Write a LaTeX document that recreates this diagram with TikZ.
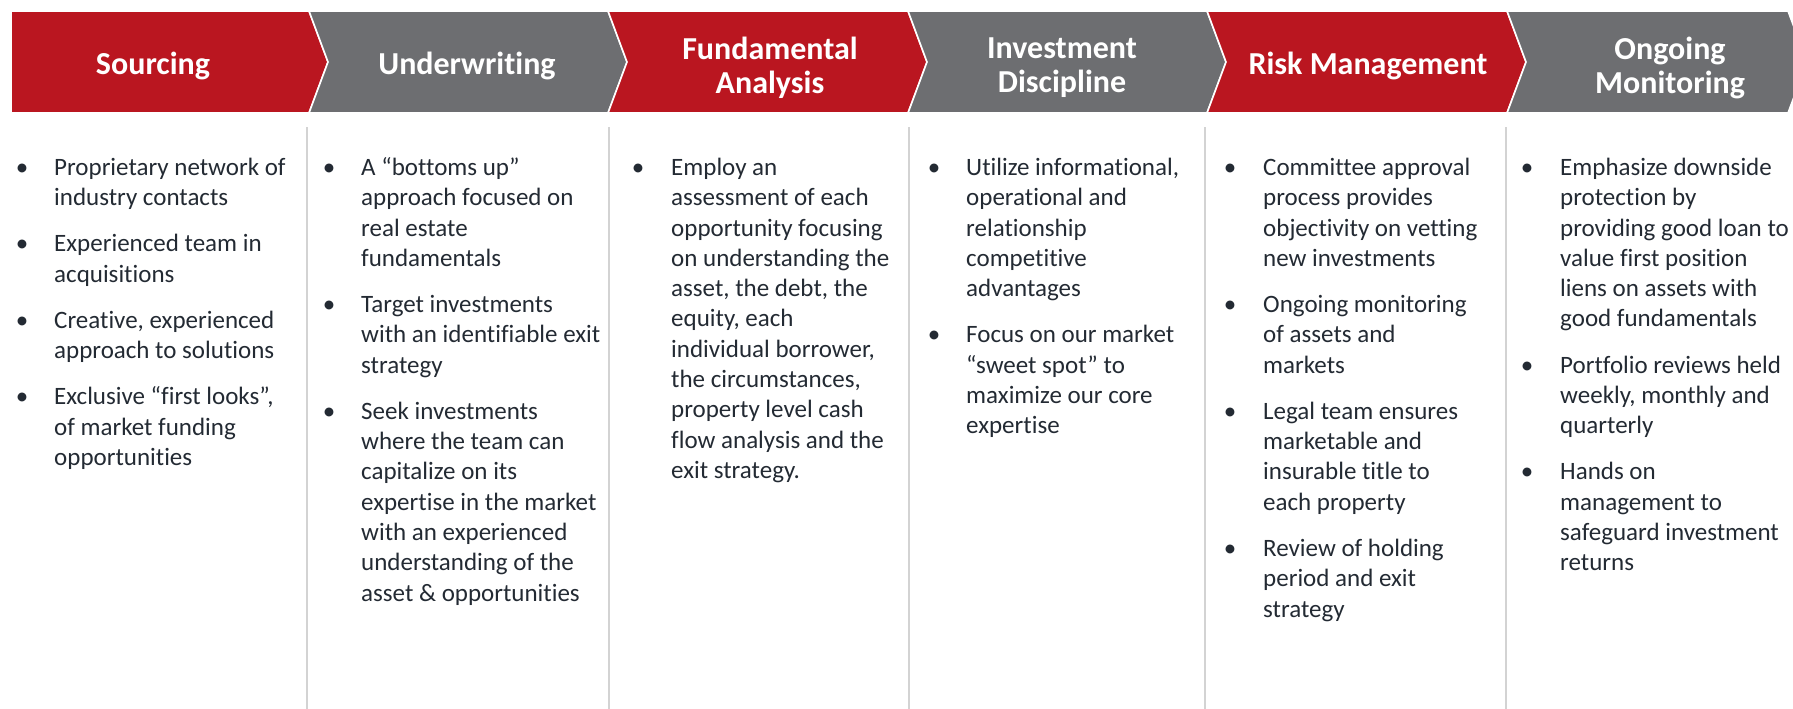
\documentclass[tikz,border=0pt]{standalone}
\usepackage{fontspec}
\setmainfont{Carlito}[Ligatures=NoCommon]
\usetikzlibrary{positioning}
\definecolor{brandred}{HTML}{BA1620}
\definecolor{brandgray}{HTML}{6D6E71}
\definecolor{bodytext}{HTML}{232A33}
\definecolor{rulegray}{HTML}{D3D3D3}
\begin{document}
\begin{tikzpicture}[x=1pt,y=-1pt,
  stage/.style={draw=white,line width=1.6pt,line join=miter},
  redstage/.style={stage,fill=brandred},
  graystage/.style={stage,fill=brandgray},
  head/.style={text=white,font=\fontsize{32}{34}\selectfont\bfseries,align=center,inner sep=0pt},
  item/.style={text=bodytext,font=\fontsize{25}{30.3}\selectfont,align=left,inner sep=0pt,anchor=north west},
  follow/.style={below=15.5pt of #1.south west,anchor=north west},
  dot/.style={text=bodytext,font=\fontsize{25}{30.3}\selectfont,inner sep=0pt,anchor=north},
  colrule/.style={draw=rulegray,line width=1.8pt}
]
\path[use as bounding box] (0,0) rectangle (1793,709);
\clip (0,0) rectangle (1793,709);

% stage band
\path[redstage]  (11,11) -- (309,11) -- (328,62) -- (309,113) -- (11,113) -- cycle;
\path[graystage] (309,11) -- (608,11) -- (627,62) -- (608,113) -- (309,113) -- (328,62) -- cycle;
\path[redstage]  (608,11) -- (908,11) -- (927,62) -- (908,113) -- (608,113) -- (627,62) -- cycle;
\path[graystage] (908,11) -- (1207,11) -- (1226,62) -- (1207,113) -- (908,113) -- (927,62) -- cycle;
\path[redstage]  (1207,11) -- (1507,11) -- (1526,62) -- (1507,113) -- (1207,113) -- (1226,62) -- cycle;
\path[graystage] (1507,11) -- (1788,11) -- (1807,62) -- (1788,113) -- (1507,113) -- (1526,62) -- cycle;

\node[head] (h1) at (153,66) {Sourcing};
\node[head] (h2) at (467,66) {Underwriting};
\node[head] (h3) at (770,68) {Fundamental\\Analysis};
\node[head] (h4) at (1062,68) {Investment\\Discipline};
\node[head] (h5) at (1368,66) {Risk Management};
\node[head] (h6) at (1670,68) {Ongoing\\Monitoring};

% column rules
\draw[colrule] (307,127) -- (307,709);
\draw[colrule] (609,127) -- (609,709);
\draw[colrule] (909,127) -- (909,709);
\draw[colrule] (1205,127) -- (1205,709);
\draw[colrule] (1506,127) -- (1506,709);

% Sourcing
\node[item] (a1) at (54,154) {\strut Proprietary network of\\industry contacts\strut};
\node[item,follow=a1] (a2) {\strut Experienced team in\\acquisitions\strut};
\node[item,follow=a2] (a3) {\strut Creative, experienced\\approach to solutions\strut};
\node[item,follow=a3] (a4) {\strut Exclusive “first looks”,\\of market funding\\opportunities\strut};
\foreach \n in {a1,a2,a3,a4} \node[dot] (d-\n) at (22,0 |- \n.north) {\strut\textbullet};

% Underwriting
\node[item] (b1) at (361,154) {\strut A “bottoms up”\\approach focused on\\real estate\\fundamentals\strut};
\node[item,follow=b1] (b2) {\strut Target investments\\with an identifiable exit\\strategy\strut};
\node[item,follow=b2] (b3) {\strut Seek investments\\where the team can\\capitalize on its\\expertise in the market\\with an experienced\\understanding of the\\asset \& opportunities\strut};
\foreach \n in {b1,b2,b3} \node[dot] (d-\n) at (329,0 |- \n.north) {\strut\textbullet};

% Fundamental Analysis
\node[item] (c1) at (671,154) {\strut Employ an\\assessment of each\\opportunity focusing\\on understanding the\\asset, the debt, the\\equity, each\\individual borrower,\\the circumstances,\\property level cash\\flow analysis and the\\exit strategy.\strut};
\node[dot] (d-c1) at (638,0 |- c1.north) {\strut\textbullet};

% Investment Discipline
\node[item] (e1) at (966,154) {\strut Utilize informational,\\operational and\\relationship\\competitive\\advantages\strut};
\node[item,follow=e1] (e2) {\strut Focus on our market\\“sweet spot” to\\maximize our core\\expertise\strut};
\foreach \n in {e1,e2} \node[dot] (d-\n) at (934,0 |- \n.north) {\strut\textbullet};

% Risk Management
\node[item] (f1) at (1263,154) {\strut Committee approval\\process provides\\objectivity on vetting\\new investments\strut};
\node[item,follow=f1] (f2) {\strut Ongoing monitoring\\of assets and\\markets\strut};
\node[item,follow=f2] (f3) {\strut Legal team ensures\\marketable and\\insurable title to\\each property\strut};
\node[item,follow=f3] (f4) {\strut Review of holding\\period and exit\\strategy\strut};
\foreach \n in {f1,f2,f3,f4} \node[dot] (d-\n) at (1230,0 |- \n.north) {\strut\textbullet};

% Ongoing Monitoring
\node[item] (g1) at (1560,154) {\strut Emphasize downside\\protection by\\providing good loan to\\value first position\\liens on assets with\\good fundamentals\strut};
\node[item,follow=g1] (g2) {\strut Portfolio reviews held\\weekly, monthly and\\quarterly\strut};
\node[item,follow=g2] (g3) {\strut Hands on\\management to\\safeguard investment\\returns\strut};
\foreach \n in {g1,g2,g3} \node[dot] (d-\n) at (1527,0 |- \n.north) {\strut\textbullet};
\end{tikzpicture}
\end{document}
